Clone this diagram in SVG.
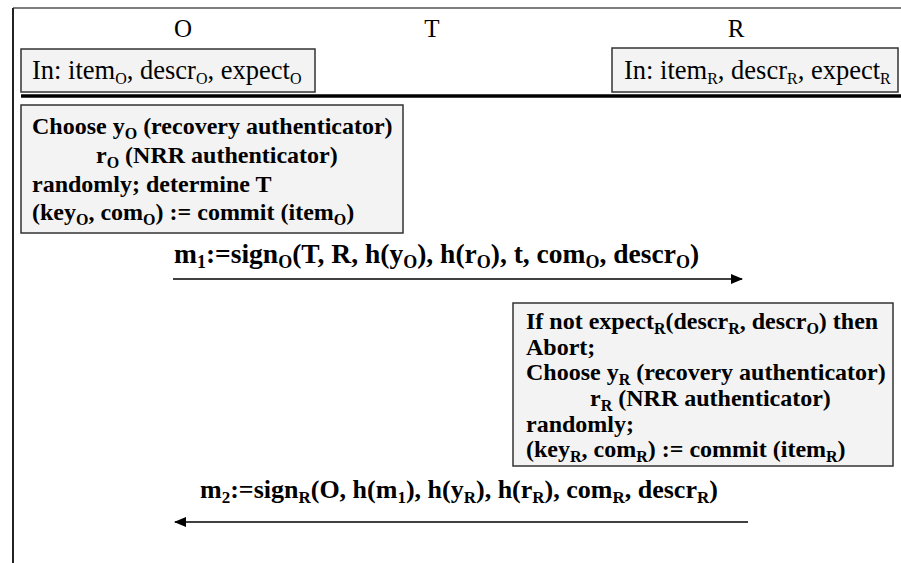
<svg xmlns="http://www.w3.org/2000/svg" width="901" height="563" viewBox="0 0 901 563">
<style>
.hdr{font-family:"Liberation Serif","Times New Roman",serif;font-size:25px;fill:#000;text-anchor:middle}
.inp{font-family:"Liberation Serif","Times New Roman",serif;font-size:26.5px;fill:#000}
.bt{font-family:"Liberation Serif","Times New Roman",serif;font-size:24px;font-weight:bold;fill:#000}
.msg{font-family:"Liberation Serif","Times New Roman",serif;font-size:26px;font-weight:bold;fill:#000}
.msg1{font-size:27.5px}
.box{fill:#f3f3f3;stroke:#333;stroke-width:1.5}
.ln{stroke:#000;stroke-width:1.5;fill:none}
.sub{font-size:16px}
.msub{font-size:17px}
.msub1{font-size:18px}
</style>
<defs>
<marker id="ah" markerWidth="12" markerHeight="10" refX="11" refY="5" orient="auto" markerUnits="userSpaceOnUse">
<path d="M0,0 L12,5 L0,10 Z" fill="#000"/>
</marker>
</defs>
<rect x="0" y="0" width="901" height="563" fill="#fff"/>
<g id="frame">
<line x1="13" y1="8" x2="901" y2="8" stroke="#555" stroke-width="1.5"/>
<line x1="13" y1="8" x2="13" y2="563" stroke="#222" stroke-width="2"/>
<line x1="21" y1="96" x2="901" y2="96" stroke="#000" stroke-width="3.5"/>
</g>
<g id="headers">
<text class="hdr" x="183" y="37">O</text>
<text class="hdr" x="432" y="37">T</text>
<text class="hdr" x="736" y="37">R</text>
</g>
<g id="inO">
<rect class="box" x="21" y="49" width="294" height="43"/>
<text class="inp" x="32" y="79">In: item<tspan class="sub" dy="5">O</tspan><tspan dy="-5">, descr</tspan><tspan class="sub" dy="5">O</tspan><tspan dy="-5">, expect</tspan><tspan class="sub" dy="5">O</tspan></text>
</g>
<g id="inR">
<rect class="box" x="612" y="48" width="286" height="44"/>
<text class="inp" x="624" y="79">In: item<tspan class="sub" dy="5">R</tspan><tspan dy="-5">, descr</tspan><tspan class="sub" dy="5">R</tspan><tspan dy="-5">, expect</tspan><tspan class="sub" dy="5">R</tspan></text>
</g>
<g id="boxO">
<rect class="box" x="21" y="105" width="382" height="128"/>
<text class="bt" x="32" y="134">Choose y<tspan class="sub" dy="5">O</tspan><tspan dy="-5"> (recovery authenticator)</tspan></text>
<text class="bt" x="96" y="163">r<tspan class="sub" dy="5">O</tspan><tspan dy="-5"> (NRR authenticator)</tspan></text>
<text class="bt" x="32" y="192">randomly; determine T</text>
<text class="bt" x="32" y="220">(key<tspan class="sub" dy="5">O</tspan><tspan dy="-5">, com</tspan><tspan class="sub" dy="5">O</tspan><tspan dy="-5">) := commit (item</tspan><tspan class="sub" dy="5">O</tspan><tspan dy="-5">)</tspan></text>
</g>
<g id="boxR">
<rect class="box" x="513" y="303" width="380" height="163"/>
<text class="bt" x="526" y="329">If not expect<tspan class="sub" dy="5">R</tspan><tspan dy="-5">(descr</tspan><tspan class="sub" dy="5">R</tspan><tspan dy="-5">, descr</tspan><tspan class="sub" dy="5">O</tspan><tspan dy="-5">) then</tspan></text>
<text class="bt" x="526" y="355">Abort;</text>
<text class="bt" x="526" y="380">Choose y<tspan class="sub" dy="5">R</tspan><tspan dy="-5"> (recovery authenticator)</tspan></text>
<text class="bt" x="590" y="406">r<tspan class="sub" dy="5">R</tspan><tspan dy="-5"> (NRR authenticator)</tspan></text>
<text class="bt" x="526" y="432">randomly;</text>
<text class="bt" x="526" y="457">(key<tspan class="sub" dy="5">R</tspan><tspan dy="-5">, com</tspan><tspan class="sub" dy="5">R</tspan><tspan dy="-5">) := commit (item</tspan><tspan class="sub" dy="5">R</tspan><tspan dy="-5">)</tspan></text>
</g>
<g id="connectors">
<line class="ln" x1="173" y1="279" x2="742" y2="279" marker-end="url(#ah)"/>
<text class="msg msg1" x="174" y="263">m<tspan class="msub1" dy="5">1</tspan><tspan dy="-5">:=sign</tspan><tspan class="msub1" dy="5">O</tspan><tspan dy="-5">(T, R, h(y</tspan><tspan class="msub1" dy="5">O</tspan><tspan dy="-5">), h(r</tspan><tspan class="msub1" dy="5">O</tspan><tspan dy="-5">), t, com</tspan><tspan class="msub1" dy="5">O</tspan><tspan dy="-5">, descr</tspan><tspan class="msub1" dy="5">O</tspan><tspan dy="-5">)</tspan></text>
<line class="ln" x1="748" y1="522" x2="175" y2="522" marker-end="url(#ah)"/>
<text class="msg" x="200" y="498">m<tspan class="msub" dy="5">2</tspan><tspan dy="-5">:=sign</tspan><tspan class="msub" dy="5">R</tspan><tspan dy="-5">(O, h(m</tspan><tspan class="msub" dy="5">1</tspan><tspan dy="-5">), h(y</tspan><tspan class="msub" dy="5">R</tspan><tspan dy="-5">), h(r</tspan><tspan class="msub" dy="5">R</tspan><tspan dy="-5">), com</tspan><tspan class="msub" dy="5">R</tspan><tspan dy="-5">, descr</tspan><tspan class="msub" dy="5">R</tspan><tspan dy="-5">)</tspan></text>
</g>
</svg>
